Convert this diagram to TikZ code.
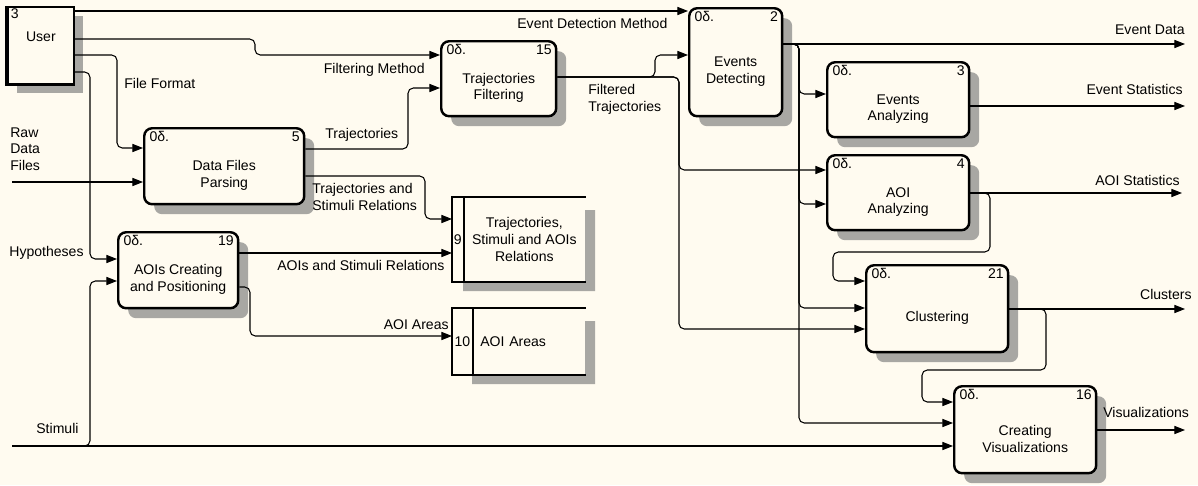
\documentclass[tikz,border=0pt]{standalone}
\usepackage{fontspec}
\setmainfont{Liberation Sans}
\usepackage{tikz}
\usetikzlibrary{arrows.meta, shadows, positioning}
\definecolor{paper}{RGB}{255,251,240}
\definecolor{hatch}{RGB}{168,167,163}

\begin{document}
\begin{tikzpicture}[x=0.02cm, y=-0.02cm, >={Triangle[length=6pt,width=4.6pt]},
	font=\fontsize{8}{9.5}\selectfont,
	flow/.style={->, line width=0.6pt, rounded corners=3pt},
	act/.style={draw, line width=1.4pt, rounded corners=4.5pt, fill=paper, anchor=north west, align=center, inner sep=0pt,
		drop shadow={shadow xshift=0.2cm, shadow yshift=-0.2cm, fill=hatch, opacity=1}},
	cost/.style={anchor=north west, inner xsep=3.5pt, inner ysep=2.5pt},
	num/.style={anchor=north east, inner xsep=3pt, inner ysep=2.5pt},
	lbl/.style={inner sep=0pt, align=left},
	store/.style={anchor=north west, inner sep=0pt, align=center}]
	\fill[paper] (0,0) rectangle (1198,485);
	\useasboundingbox (0,0) rectangle (1198,485);

	% external
	\fill[hatch] (17,16) rectangle (83,93);
	\node[draw, line width=1pt, fill=paper, anchor=north west, minimum width=1.32cm, minimum height=1.54cm, inner sep=0pt, align=center,
		label={[cost, inner xsep=2pt, inner ysep=1.5pt]north west:3}] (user) at (7,6) {User\\\mbox{}};
	\draw[line width=1.9pt] (user.north west) -- (user.south west) -- (user.south east);

	% activities
	\node[act, minimum width=3.2cm, minimum height=1.52cm, label={[cost]north west:0δ.}, label={[num]north east:5}] (dfp) at (143,127) {\strut\\Data Files\\Parsing};
	\node[act, minimum width=2.3cm, minimum height=1.5cm, label={[cost]north west:0δ.}, label={[num]north east:15}] (tf) at (440,40) {\strut\\Trajectories\\Filtering};
	\node[act, minimum width=1.86cm, minimum height=2.16cm, label={[cost]north west:0δ.}, label={[num]north east:2}] (ed) at (688,7) {\strut\\Events\\Detecting};
	\node[act, minimum width=2.84cm, minimum height=1.5cm, label={[cost]north west:0δ.}, label={[num]north east:3}] (ea) at (826,61) {\strut\\Events\\Analyzing};
	\node[act, minimum width=2.84cm, minimum height=1.5cm, label={[cost]north west:0δ.}, label={[num]north east:4}] (aa) at (826,154) {\strut\\AOI\\Analyzing};
	\node[act, minimum width=2.84cm, minimum height=1.74cm, label={[cost]north west:0δ.}, label={[num]north east:21}] (cl) at (865,264) {\strut\\Clustering};
	\node[act, minimum width=2.84cm, minimum height=1.74cm, label={[cost]north west:0δ.}, label={[num]north east:16}] (cv) at (953,385) {\strut\\Creating\\Visualizations};
	\node[act, minimum width=2.4cm, minimum height=1.52cm, label={[cost]north west:0δ.}, label={[num]north east:19}] (aoi) at (117,231) {\strut\\AOIs Creating\\and Positioning};

	% data stores
	\fill[hatch] (585,210) rectangle (595,291) (463,281) rectangle (595,291);
	\fill[hatch] (585,321) rectangle (595,384) (472,374) rectangle (595,384);
	\node[store, minimum width=2.44cm, minimum height=1.68cm, fill=paper] (s9) at (463,197) {Trajectories,\\Stimuli and AOIs\\Relations};
	\node[store, minimum width=0.22cm, minimum height=1.68cm, fill=paper] (s9n) at (452,197) {9};
	\node[store, minimum height=1.32cm, text width=1.94cm, inner xsep=0.16cm, align=left, fill=paper] (s10) at (472,308) {AOI Areas};
	\node[store, minimum width=0.4cm, minimum height=1.32cm, fill=paper] (s10n) at (452,308) {10};
	\draw[line width=1.1pt] (s9.north east) -- (s9n.north west) -- (s9n.south west) -- (s9.south east);
	\draw[line width=1.1pt] (s9n.north east) -- (s9n.south east);
	\draw[line width=1.1pt] (s10.north east) -- (s10n.north west) -- (s10n.south west) -- (s10.south east);
	\draw[line width=1.1pt] (s10n.north east) -- (s10n.south east);

	% free ends
	\coordinate (rawin) at (12,182);
	\coordinate (stimin) at (12,446);
	\coordinate (oEvData) at (1185,44);
	\coordinate (oEvStat) at (1185,106);
	\coordinate (oAoiStat) at (1182,193);
	\coordinate (oClust) at (1185,309);
	\coordinate (oVis) at (1185,430);

	% arrows
	\draw[flow] (user.east |- 0,11) -- (ed.west |- 0,11);
	\draw[flow] (user.east |- 0,39) -| (255,55) -- (tf.west |- 0,55);
	\draw[flow] (user.east |- 0,55) -| (117,148) -- (dfp.west |- 0,148);
	\draw[flow] (user.east |- 0,72) -| (90,259) -- (aoi.west |- 0,259);
	\draw[flow] (rawin) -- (dfp.west |- 0,182);
	\draw[flow] (stimin) -- (cv.west |- 0,446);
	\draw[flow] (stimin) -| (90,281) -- (aoi.west |- 0,281);
	\draw[flow] (dfp.east |- 0,149) -| (408,88) -- (tf.west |- 0,88);
	\draw[flow] (dfp.east |- 0,176) -| (425,219) -- (s9n.west |- 0,219);
	\draw[flow] (aoi.east |- 0,253) -- (s9n.west |- 0,253);
	\draw[flow] (aoi.east |- 0,287) -| (250,336) -- (s10n.west |- 0,336);
	\draw[flow] (tf.east |- 0,77) -| (655,55) -- (ed.west |- 0,55);
	\draw[flow] (tf.east |- 0,77) -| (679,170) -- (aa.west |- 0,170);
	\draw[flow] (tf.east |- 0,77) -| (679,329) -- (cl.west |- 0,329);
	\draw[flow] (ed.east |- 0,44) -- (oEvData);
	\draw[flow] (ed.east |- 0,44) -| (799,94) -- (ea.west |- 0,94);
	\draw[flow] (ed.east |- 0,44) -| (799,204) -- (aa.west |- 0,204);
	\draw[flow] (ed.east |- 0,44) -| (799,308) -- (cl.west |- 0,308);
	\draw[flow] (ed.east |- 0,44) -| (799,423) -- (cv.west |- 0,423);
	\draw[flow] (ea.east |- 0,106) -- (oEvStat);
	\draw[flow] (aa.east |- 0,193) -- (oAoiStat);
	\draw[flow] (aa.east |- 0,193) -| (990,252) -| (833,281) -- (cl.west |- 0,281);
	\draw[flow] (cl.east |- 0,309) -- (oClust);
	\draw[flow] (cl.east |- 0,309) -| (1046,370) -| (922,402) -- (cv.west |- 0,402);
	\draw[flow] (cv.east |- 0,430) -- (oVis);

	% labels
	\node[lbl, anchor=north west] (lRaw) at (10,127) {Raw\\Data\\Files};
	\node[lbl, anchor=west] (lFormat) at (124,83) {File Format};
	\node[lbl, anchor=west] (lHyp) at (9,253) {Hypotheses};
	\node[lbl, anchor=west] (lStim) at (36,428) {Stimuli};
	\node[lbl, anchor=east] (lMethod) at (425,70) {Filtering Method};
	\node[lbl, anchor=west] (lDetect) at (517,23) {Event Detection Method};
	\node[lbl, anchor=west] (lTraj) at (325,135) {Trajectories};
	\node[lbl, anchor=north west] (lTrajRel) at (312,183) {Trajectories and\\Stimuli Relations};
	\node[lbl, anchor=north west] (lFilt) at (588,84) {Filtered\\Trajectories};
	\node[lbl, anchor=west] (lAoiRel) at (277,265) {AOIs and Stimuli Relations};
	\node[lbl, anchor=east] (lAreas) at (449,325) {AOI Areas};
	\node[lbl, anchor=east] (lEvData) at (1185,30) {Event Data};
	\node[lbl, anchor=east] (lEvStat) at (1183,89) {Event Statistics};
	\node[lbl, anchor=east] (lAoiStat) at (1180,180) {AOI Statistics};
	\node[lbl, anchor=east] (lClust) at (1192,294) {Clusters};
	\node[lbl, anchor=west] (lVis) at (1103,412) {Visualizations};
\end{tikzpicture}
\end{document}
